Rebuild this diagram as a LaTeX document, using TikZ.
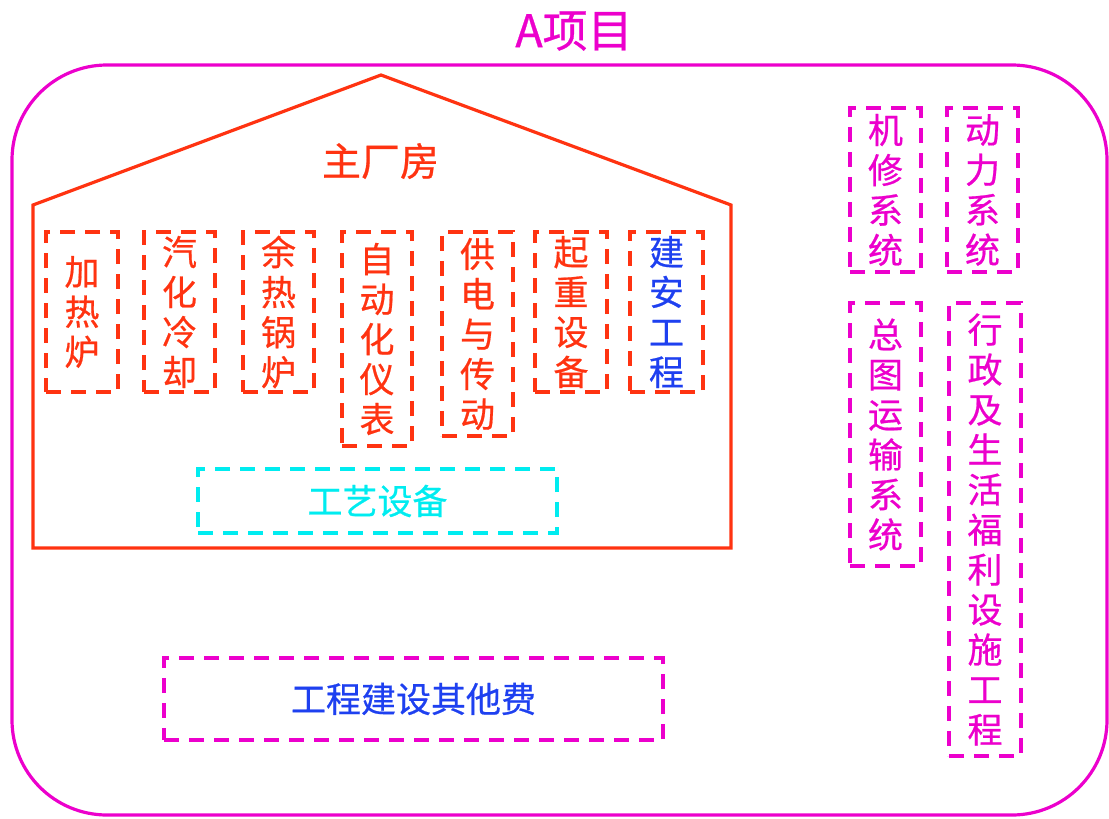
\documentclass[tikz,border=0pt]{standalone}
\usepackage{fontspec}
\setmainfont{Noto Sans CJK SC}
\newfontfamily\cjkf[FakeBold=0.6]{Noto Sans CJK SC}
\definecolor{mag}{RGB}{236,0,204}
\definecolor{hred}{RGB}{255,51,17}
\definecolor{hblue}{RGB}{30,64,240}
\definecolor{hcyan}{RGB}{0,236,240}
\tikzset{
  dbox/.style={draw, line width=3.5pt, dash pattern=on 15pt off 10pt, inner sep=0pt, align=center,
    font=\cjkf\fontsize{35}{40}\selectfont},
  redbox/.style={dbox, draw=hred, text=hred},
  magbox/.style={dbox, draw=mag, text=mag},
}
\begin{document}
\begin{tikzpicture}[x=1pt,y=-1pt]
\useasboundingbox (0,0) rectangle (1109,819);
% outer
\node[draw=mag, line width=3.2pt, rounded corners=95pt, minimum width=1095pt, minimum height=750pt, inner sep=0pt] (outer) at (559.5,440) {};
\node[text=mag, font=\cjkf\fontsize{45}{50}\selectfont, inner sep=0pt] (title) at (574,31) {A项目};
% house
\draw[hred, line width=3.2pt, line join=miter] (33,205) -- (381,75) -- (731,205) -- (731,548) -- (33,548) -- cycle;
\node[text=hred, font=\cjkf\fontsize{39}{44}\selectfont, inner sep=0pt] (zcf) at (380.5,161) {主厂房};
% inner boxes
\node[redbox, minimum width=72pt, minimum height=160pt] (b1) at (82,312) {加\\热\\炉};
\node[redbox, minimum width=71pt, minimum height=160pt] (b2) at (179.5,312) {汽\\化\\冷\\却};
\node[redbox, minimum width=71pt, minimum height=160pt] (b3) at (278.5,312) {余\\热\\锅\\炉};
\node[redbox, minimum width=70pt, minimum height=214pt] (b4) at (377,339) {自\\动\\化\\仪\\表};
\node[redbox, minimum width=71pt, minimum height=204pt] (b5) at (477.5,334) {供\\电\\与\\传\\动};
\node[redbox, minimum width=72pt, minimum height=160pt] (b6) at (571,312) {起\\重\\设\\备};
\node[redbox, text=hblue, minimum width=73pt, minimum height=160pt] (b7) at (666.5,312) {建\\安\\工\\程};
\node[dbox, draw=hcyan, text=hcyan, minimum width=359pt, minimum height=64pt] (gy) at (377.5,501) {工艺设备};
% bottom
\node[dbox, draw=mag, text=hblue, minimum width=499pt, minimum height=82pt] (qt) at (413.5,699) {工程建设其他费};
% right
\node[magbox, minimum width=71pt, minimum height=164pt] (r1) at (885.5,190) {机\\修\\系\\统};
\node[magbox, minimum width=71pt, minimum height=164pt] (r2) at (982.5,190) {动\\力\\系\\统};
\node[magbox, minimum width=71pt, minimum height=263pt] (r3) at (885.5,434.5) {总\\图\\运\\输\\系\\统};
\node[magbox, minimum width=72pt, minimum height=453pt] (r4) at (985,529.5) {行\\政\\及\\生\\活\\福\\利\\设\\施\\工\\程};
\end{tikzpicture}
\end{document}
